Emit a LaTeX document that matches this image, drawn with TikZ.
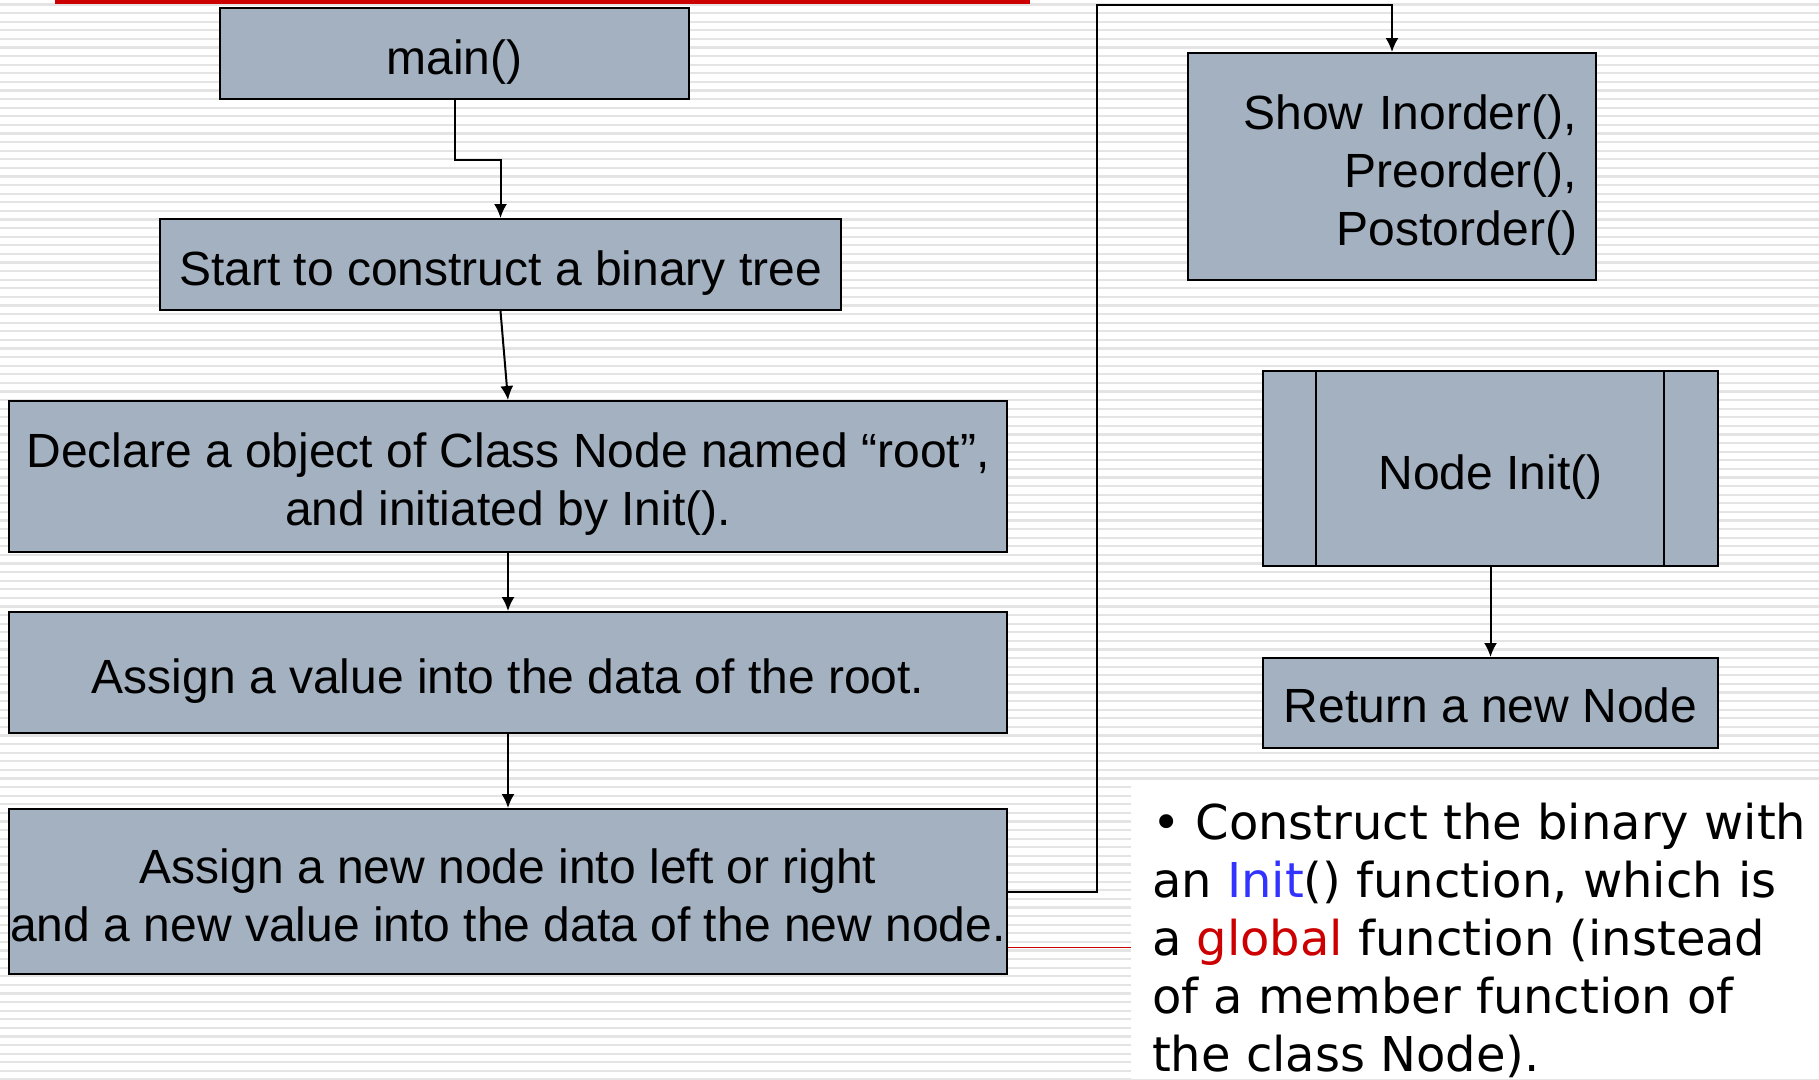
\documentclass[tikz,border=0pt]{standalone}
\usepackage{fontspec}
\setmainfont{Liberation Sans}
\newfontfamily\bulletfont{DejaVu Sans}
\usetikzlibrary{arrows.meta}
\definecolor{boxfill}{RGB}{163,177,193}
\definecolor{stripegray}{RGB}{228,228,228}
\definecolor{slidered}{RGB}{204,0,0}
\definecolor{initblue}{RGB}{51,51,255}

\begin{document}
\begin{tikzpicture}[x=1pt, y=-1pt, >={Latex[length=14pt,width=13pt]}, line width=2pt]
    \tikzset{block/.style={draw, rectangle, fill=boxfill, align=center, inner sep=0pt,
      font=\fontsize{48}{58}\selectfont, execute at begin node={\rule{0pt}{#1}}},
      block/.default=51pt};
    \tikzstyle{stripe} = [stripegray, line width=2.2pt];
    \useasboundingbox (0,0) rectangle (1819,1079);
    % slide background
    \fill[white] (0,0) rectangle (1819,1079);
    \foreach \k in {0,...,125}
      \draw[stripe] (0,4.5+8.6*\k) -- (1819,4.5+8.6*\k);
    \fill[white] (1131,785) rectangle (1819,1079);
    \fill[slidered] (55,0) rectangle (1030,4);
    % left column
    \node [block, minimum width=469, minimum height=91] (main) at (454.5,53.5) {main()};
    \node [block, minimum width=681, minimum height=91] (start) at (500.5,264.5) {Start to construct a binary tree};
    \node [block=0pt, minimum width=998, minimum height=151] (declare) at (508,476.5) {\rule{0pt}{49pt}Declare a object of Class Node named “root”,\\ and initiated by Init().};
    \node [block, minimum width=998, minimum height=121] (assignval) at (508,672.5) {Assign a value into the data of the root.};
    \node [block=0pt, minimum width=998, minimum height=165] (assignnew) at (508,891.5) {\rule{0pt}{42pt}Assign a new node into left or right\\ and a new value into the data of the new node.};
    % right column
    \node [block, minimum width=408, minimum height=227, text width=370, align=right] (show) at (1392,166.5) {Show Inorder(),\\ Preorder(),\\ Postorder()};
    \node [block, minimum width=455, minimum height=195] (init) at (1490.5,468.5) {Node Init()};
    \draw ([xshift=54pt]init.north west) -- ([xshift=54pt]init.south west);
    \draw ([xshift=-55pt]init.north east) -- ([xshift=-55pt]init.south east);
    \node [block=39pt, minimum width=455, minimum height=90] (ret) at (1490.5,703) {Return a new Node};
    \node [anchor=north west, align=left, inner sep=0pt, font=\bulletfont\fontsize{48}{58}\selectfont] (note) at (1151,802)
      {\textbullet\ Construct the binary with\\ an \textcolor{initblue}{Init}() function, which is\\ a \textcolor{slidered}{global} function (instead\\ of a member function of\\ the class Node).};
    \coordinate (turn) at (1097,5);
    \coordinate (redend) at (1131,947);
    \draw [->] (main.south) -- ++(0,60) -| (start.north);
    \draw [->] (start.south) -- (declare.north);
    \draw [->] (declare.south) -- (assignval.north);
    \draw [->] (assignval.south) -- (assignnew.north);
    \draw [->] (assignnew.east) -| (turn) -| (show.north);
    \draw [->] (init.south) -- (ret.north);
    \draw [slidered, line width=1pt] (assignnew.east |- redend) -- (redend);
\end{tikzpicture}
\end{document}
